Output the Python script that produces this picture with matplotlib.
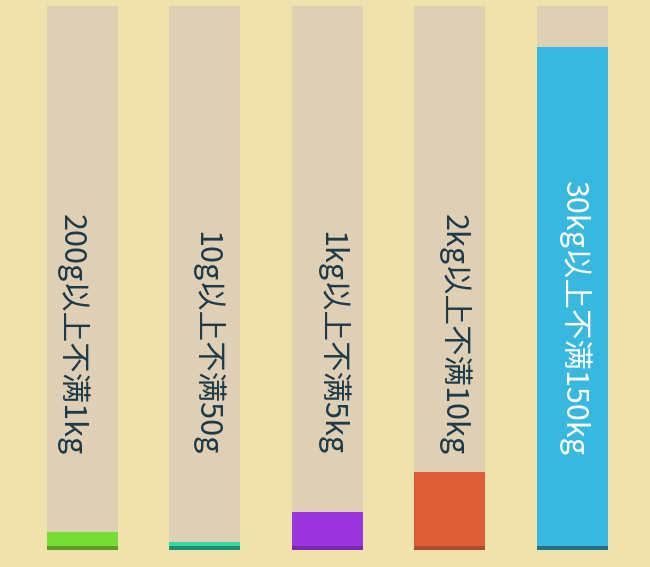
import numpy as np
import matplotlib.pyplot as plt

plt.rcParams['font.family'] = ['Noto Sans CJK SC', 'DejaVu Sans']

# data
labels = ['200g以上不满1kg', '10g以上不满50g', '1kg以上不满5kg', '2kg以上不满10kg', '30kg以上不满150kg']
values = [3.3, 1.5, 7.0, 14.3, 92.5]   # % of track height
colors = ['#77dd35', '#35d8a2', '#9a35dd', '#df5d37', '#38b7df']
edge_colors = ['#5c9c22', '#1e8c70', '#7a28b0', '#b04a2c', '#207288']
text_colors = ['#1c3a48', '#1c3a48', '#1c3a48', '#1c3a48', '#ffffff']
text_shift = [-10, 2, 4, 4, 2]   # px, label offset from bar centre

fig = plt.figure(figsize=(6.5, 5.67), dpi=100)
fig.patch.set_facecolor('#efe2aa')
ax = fig.add_axes([0.0328, 0.030, 0.9414, 0.9594])
ax.set_facecolor('none')

x = np.arange(len(labels))
w = 0.58
strip = 0.7
px = 122.4  # pixels per x unit

# beige tracks
ax.bar(x, [100] * len(x), width=w, color='#dfd0b5', zorder=1)
# colored fills
ax.bar(x, values, width=w, color=colors, zorder=2)
# darker bottom strip
ax.bar(x, [min(strip, v) for v in values], width=w, color=edge_colors, zorder=3)

for i, lab in enumerate(labels):
    ax.text(x[i] + text_shift[i] / px, 17.5, lab, rotation=-90, rotation_mode='anchor',
            ha='right', va='center', fontsize=22, color=text_colors[i], zorder=4)

ax.set_xlim(-0.5, len(x) - 0.5)
ax.set_ylim(0, 100)
ax.axis('off')

plt.savefig('out.png', dpi=100, facecolor=fig.get_facecolor())
